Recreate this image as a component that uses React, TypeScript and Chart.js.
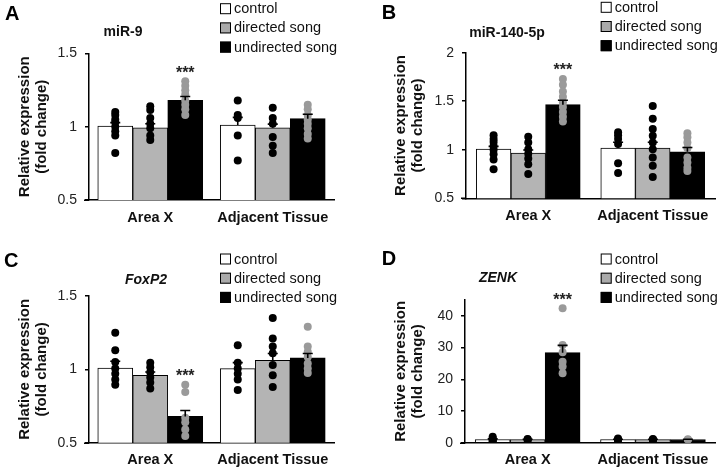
import React, { useEffect, useRef } from "react";
import { Chart, registerables } from "chart.js";

Chart.register(...registerables);
Chart.defaults.font.family = "'Liberation Sans', Arial, Helvetica, sans-serif";

// ---------- data ----------
const categories = ["Area X", "Adjacent Tissue"];
const groups = ["control", "directed song", "undirected song"];
const yTitle = ["Relative expression", "(fold change)"];

// Panel A: miR-9   [group][category]
const mir9Means = [[1.005, 1.012], [0.993, 0.993], [1.181, 1.055]];
const mir9Sems = [[0.023, 0.052], [0.027, 0.025], [0.025, 0.03]];
const mir9Points = [
  [[1.10, 1.08, 1.05, 1.03, 1.0, 0.97, 0.94, 0.82], [1.18, 1.08, 1.06, 0.94, 0.77]],
  [[1.14, 1.115, 1.06, 1.02, 0.99, 0.94, 0.91], [1.13, 1.06, 1.02, 0.93, 0.87, 0.82]],
  [[1.31, 1.28, 1.25, 1.22, 1.18, 1.15, 1.12, 1.08], [1.15, 1.12, 1.08, 1.05, 1.02, 0.99, 0.95, 0.92]],
];
const mir9Ticks = [0.5, 1, 1.5];
const mir9Range = [0.5, 1.5];

// Panel B: miR-140-5p
const mir140Means = [[1.007, 1.017], [0.965, 1.017], [1.465, 0.98]];
const mir140Sems = [[0.028, 0.06], [0.032, 0.06], [0.045, 0.044]];
const mir140Points = [
  [[1.15, 1.11, 1.08, 1.04, 1.0, 0.955, 0.9, 0.8], [1.18, 1.15, 1.11, 1.06, 0.86, 0.76]],
  [[1.135, 1.075, 1.005, 0.96, 0.91, 0.85, 0.75], [1.45, 1.32, 1.215, 1.145, 1.075, 1.005, 0.92, 0.835, 0.72]],
  [[1.73, 1.67, 1.6, 1.545, 1.49, 1.44, 1.39, 1.34, 1.29], [1.17, 1.13, 1.075, 1.015, 0.92, 0.87, 0.815, 0.78]],
];
const mir140Ticks = [0.5, 1, 1.5, 2];
const mir140Range = [0.5, 2];

// Panel C: FoxP2
const foxp2Means = [[1.009, 1.005], [0.959, 1.062], [0.679, 1.078]];
const foxp2Sems = [[0.046, 0.041], [0.023, 0.046], [0.041, 0.03]];
const foxp2Points = [
  [[1.25, 1.13, 1.05, 1.005, 0.97, 0.93, 0.895], [1.165, 1.045, 1.005, 0.97, 0.93, 0.86]],
  [[1.045, 1.015, 0.98, 0.945, 0.91, 0.87], [1.35, 1.21, 1.155, 1.11, 1.03, 0.96, 0.88]],
  [[0.895, 0.845, 0.67, 0.64, 0.59, 0.545], [1.29, 1.155, 1.12, 1.085, 1.04, 1.005, 0.975]],
];
const foxp2Ticks = [0.5, 1, 1.5];
const foxp2Range = [0.5, 1.5];

// Panel D: ZENK
const zenkMeans = [[1.0, 1.0], [1.0, 1.0], [28.4, 1.0]];
const zenkSems = [[0.2, 0.1], [0.1, 0.1], [2.3, 0.1]];
const zenkPoints = [
  [[1.9, 1.4, 1.0, 0.6, 0.3], [1.3, 1.0, 0.7]],
  [[1.2, 1.0, 0.8], [1.2, 1.0, 0.8]],
  [[42.4, 30.8, 28.5, 25.5, 24.0, 21.9], [1.1, 0.9]],
];
const zenkTicks = [0, 10, 20, 30, 40];
const zenkRange = [0, 45];

const panels = [
  { key: "A", title: "miR-9", italic: false, means: mir9Means, sems: mir9Sems, points: mir9Points, ticks: mir9Ticks, range: mir9Range },
  { key: "B", title: "miR-140-5p", italic: false, means: mir140Means, sems: mir140Sems, points: mir140Points, ticks: mir140Ticks, range: mir140Range },
  { key: "C", title: "FoxP2", italic: true, means: foxp2Means, sems: foxp2Sems, points: foxp2Points, ticks: foxp2Ticks, range: foxp2Range },
  { key: "D", title: "ZENK", italic: true, means: zenkMeans, sems: zenkSems, points: zenkPoints, ticks: zenkTicks, range: zenkRange },
];
// significant bar: group 2 (undirected), category 0 (Area X)
const sigGroup = 2;
const sigCategory = 0;

// ---------- styles / layout ----------
const W = 360;
const H = 235;
const barColors = ["#ffffff", "#b4b4b4", "#000000"];
const dotColors = ["#000000", "#000000", "#9a9a9a"];
const legendColors = ["#ffffff", "#aaaaaa", "#000000"];

const layouts: Record<string, any> = {
  A: { x: 0, y: 0, l: 89, t: 53.5, r: 334, b: 200, catPct: 0.857, titleX: 123, titleY: 32.3, letterX: 5, letterY: 13.7, legX: 220, legY: 8.7, yPad: 16.4 },
  B: { x: 360, y: 0, l: 106, t: 52.7, r: 355, b: 198.3, catPct: 0.835, titleX: 147, titleY: 33.3, letterX: 21.7, letterY: 12.5, legX: 240.7, legY: 7.3, yPad: 32.1 },
  C: { x: 0, y: 235, l: 89, t: 61, r: 334, b: 207.7, catPct: 0.857, titleX: 146, titleY: 45, letterX: 4, letterY: 25, legX: 220, legY: 24, yPad: 16.4 },
  D: { x: 360, y: 235, l: 105, t: 65, r: 355.6, b: 207.7, catPct: 0.837, titleX: 138, titleY: 43.3, letterX: 21.7, letterY: 23.3, legX: 240.7, legY: 24, yPad: 32.1 },
};

const FONT = "'Liberation Sans', Arial, Helvetica, sans-serif";

const errorBarPlugin = {
  id: "errorBars",
  afterDatasetsDraw(chart: any) {
    const { ctx } = chart;
    const y = chart.scales.y;
    chart.data.datasets.forEach((ds: any, di: number) => {
      if (!ds.errors) return;
      const meta = chart.getDatasetMeta(di);
      meta.data.forEach((bar: any, i: number) => {
        const v = ds.data[i].y;
        const yTop = y.getPixelForValue(v + ds.errors[i]);
        const yBase = y.getPixelForValue(v);
        ctx.save();
        ctx.strokeStyle = "#000";
        ctx.lineWidth = 1.6;
        ctx.beginPath();
        ctx.moveTo(bar.x, yBase);
        ctx.lineTo(bar.x, yTop);
        ctx.moveTo(bar.x - 5, yTop);
        ctx.lineTo(bar.x + 5, yTop);
        ctx.stroke();
        ctx.restore();
      });
    });
  },
};

function makeAnnotations(p: any, L: any) {
  return {
    id: "annotations" + p.key,
    afterDraw(chart: any) {
      const { ctx, chartArea } = chart;
      ctx.save();
      // small extension of the x axis line left of the y axis
      ctx.strokeStyle = "#000";
      ctx.lineWidth = 1.5;
      ctx.beginPath();
      ctx.moveTo(chartArea.left - 5, Math.round(chartArea.bottom) + 0.25);
      ctx.lineTo(chartArea.left, Math.round(chartArea.bottom) + 0.25);
      ctx.stroke();
      // panel letter
      ctx.fillStyle = "#000";
      ctx.font = `bold 20px ${FONT}`;
      ctx.textAlign = "left";
      ctx.textBaseline = "middle";
      ctx.fillText(p.key, L.letterX, L.letterY + 1);
      // gene title
      ctx.font = `${p.italic ? "italic " : ""}bold 14px ${FONT}`;
      ctx.textAlign = "center";
      ctx.fillStyle = "#111";
      ctx.fillText(p.title, L.titleX, L.titleY);
      // legend
      ctx.font = `14.5px ${FONT}`;
      ctx.textAlign = "left";
      groups.forEach((g, gi) => {
        const ry = L.legY + gi * 19.2;
        ctx.fillStyle = legendColors[gi];
        ctx.fillRect(L.legX, ry - 5.5, 11, 11);
        ctx.strokeStyle = "#000";
        ctx.lineWidth = 1;
        ctx.strokeRect(L.legX + 0.5, ry - 5, 10, 10);
        ctx.fillStyle = "#111";
        ctx.fillText(g, L.legX + 14, ry + 0.5);
      });
      // significance stars
      const meta = chart.getDatasetMeta(sigGroup);
      const bar = meta.data[sigCategory];
      const top = Math.max(...p.points[sigGroup][sigCategory]);
      const yPx = chart.scales.y.getPixelForValue(top);
      ctx.font = `bold 16px ${FONT}`;
      ctx.textAlign = "center";
      ctx.fillStyle = "#222";
      ctx.fillText("***", bar.x, yPx - 8);
      ctx.restore();
    },
  };
}

function Panel({ p }: { p: any }) {
  const ref = useRef<HTMLCanvasElement>(null);
  const L = layouts[p.key];
  useEffect(() => {
    const offset = (gi: number) => ((gi - 1) * L.catPct) / 3;
    const barW = (((L.r - L.l) / 2) * L.catPct) / 3;
    const barSets = groups.map((g, gi) => ({
      type: "bar" as const,
      label: g,
      data: p.means[gi].map((m: number, ci: number) => ({ x: ci + offset(gi), y: m })),
      errors: p.sems[gi],
      backgroundColor: barColors[gi],
      borderColor: "#000",
      borderWidth: 1,
      grouped: false,
      barThickness: barW,
      order: 2,
    }));
    const dotSets = groups.map((g, gi) => {
      const pts: { x: number; y: number }[] = [];
      p.points[gi].forEach((vals: number[], ci: number) => {
        vals.forEach((v) => pts.push({ x: ci + offset(gi), y: v }));
      });
      return {
        type: "scatter" as const,
        label: g + " points",
        data: pts,
        pointRadius: 4,
        pointBackgroundColor: dotColors[gi],
        pointBorderWidth: 0,
        order: 0,
      };
    });
    const chart = new Chart(ref.current!, {
      type: "bar",
      data: { datasets: [...barSets, ...dotSets] as any },
      plugins: [errorBarPlugin, makeAnnotations(p, L)],
      options: {
        responsive: false,
        animation: false,
        events: [],
        layout: { padding: { left: 0, top: L.t, right: W - L.r, bottom: 0 } },
        plugins: { legend: { display: false }, tooltip: { enabled: false }, title: { display: false } },
        scales: {
          x: {
            type: "linear",
            offset: false,
            min: -0.5,
            max: 1.5,
            afterBuildTicks: (s: any) => {
              s.ticks = categories.map((c, i) => ({ value: i }));
            },
            grid: { display: false, drawTicks: false },
            border: { display: true, color: "#000", width: 1.5 },
            ticks: {
              callback: (v: any) => categories[Math.round(Number(v))] ?? "",
              font: { size: 14.5, weight: "bold" },
              color: "#111",
              padding: 9,
              maxRotation: 0,
              autoSkip: false,
            },
            afterFit: (s: any) => {
              s.height = H - L.b;
            },
          },
          y: {
            type: "linear",
            min: p.range[0],
            max: p.range[1],
            afterBuildTicks: (s: any) => {
              s.ticks = p.ticks.map((v: number) => ({ value: v }));
            },
            ticks: { callback: (v: any) => String(v), font: { size: 14 }, color: "#222", padding: 8 },
            grid: { drawOnChartArea: false, drawTicks: true, tickLength: 4, color: "#000", lineWidth: 1.5 },
            border: { display: true, color: "#000", width: 1.5 },
            title: {
              display: true,
              text: yTitle,
              font: { size: 15, weight: "bold", lineHeight: 1.15 },
              color: "#111",
              padding: { top: L.yPad, bottom: 0 },
            },
            afterFit: (s: any) => {
              s.width = L.l;
            },
          },
        },
      } as any,
    });
    return () => chart.destroy();
  }, []);
  return (
    <canvas
      ref={ref}
      width={W}
      height={H}
      style={{ position: "absolute", left: L.x, top: L.y, width: W, height: H }}
    />
  );
}

export default function App() {
  return (
    <div style={{ position: "absolute", left: 0, top: 0, width: 720, height: 470, background: "#fff" }}>
      {panels.map((p) => (
        <Panel key={p.key} p={p} />
      ))}
    </div>
  );
}
